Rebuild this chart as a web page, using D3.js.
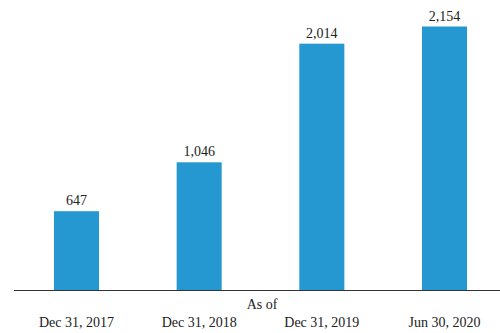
<!DOCTYPE html>
<html>
<head>
<meta charset="utf-8">
<script src="https://cdn.jsdelivr.net/npm/d3@7"></script>
<style>
  html, body { margin: 0; padding: 0; background: #fff; }
  svg { display: block; }
  text { font-family: "Liberation Serif", "Times New Roman", serif; fill: #222; }
</style>
</head>
<body>
<svg id="chart" width="500" height="333"></svg>
<script>
const categories = ["Dec 31, 2017", "Dec 31, 2018", "Dec 31, 2019", "Jun 30, 2020"];
const values = [647, 1046, 2014, 2154];
const axisTitle = "As of";

const width = 500, height = 333;
const baseline = 290.5;

const svg = d3.select("#chart");

const x = d3.scaleBand()
  .domain(categories)
  .range([14, 507])
  .paddingInner(0.633)
  .paddingOuter(0.326);

const y = d3.scaleLinear()
  .domain([0, d3.max(values)])
  .range([baseline, 26.5]);

const data = categories.map((c, i) => ({ c, v: values[i] }));

svg.selectAll("rect.bar")
  .data(data)
  .join("rect")
  .attr("class", "bar")
  .attr("x", d => x(d.c))
  .attr("width", x.bandwidth())
  .attr("y", d => y(d.v))
  .attr("height", d => y(0) - y(d.v))
  .attr("fill", "#2698d1");

svg.selectAll("text.val")
  .data(data)
  .join("text")
  .attr("class", "val")
  .attr("x", d => x(d.c) + x.bandwidth() / 2)
  .attr("y", d => y(d.v) - 6)
  .attr("text-anchor", "middle")
  .attr("font-size", 14)
  .text(d => d3.format(",")(d.v));

// baseline axis line
svg.append("line")
  .attr("x1", 14).attr("x2", width)
  .attr("y1", baseline).attr("y2", baseline)
  .attr("stroke", "#333").attr("stroke-width", 1);

svg.selectAll("text.cat")
  .data(categories)
  .join("text")
  .attr("class", "cat")
  .attr("x", d => x(d) + x.bandwidth() / 2)
  .attr("y", 327)
  .attr("text-anchor", "middle")
  .attr("font-size", 14)
  .text(d => d);

svg.append("text")
  .attr("x", 262)
  .attr("y", 309)
  .attr("text-anchor", "middle")
  .attr("font-size", 14)
  .text(axisTitle);
</script>
</body>
</html>
